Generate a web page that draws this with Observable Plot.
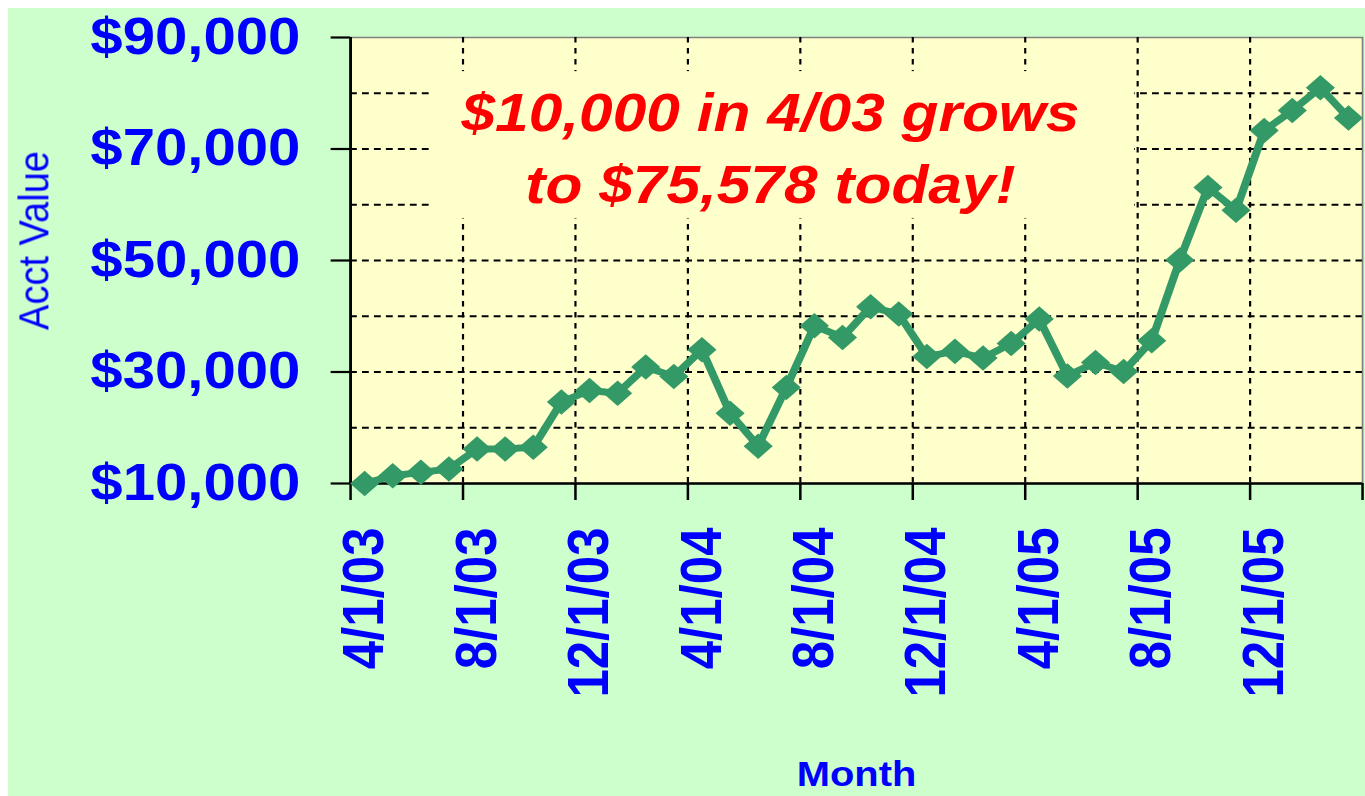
<!DOCTYPE html>
<html>
<head>
<meta charset="utf-8">
<script src="https://cdn.jsdelivr.net/npm/d3@7"></script>
<script src="https://cdn.jsdelivr.net/npm/@observablehq/plot@0.6"></script>
<style>
  html { background: #ffffff; overflow: hidden; height: 100%; }
  body { margin: 0; position: fixed; left: 8px; top: 8px; right: -40px; bottom: -40px; background: #ccffcc; overflow: hidden; }
  #chart { width: 1191px; transform: scaleX(1.14); transform-origin: 0 0; }
  #chart svg { display: block; background: #ccffcc; max-width: none; }
</style>
</head>
<body>
<div id="chart"></div>
<script>
// ---- data ----
const months = [
  "4/1/03","5/1/03","6/1/03","7/1/03","8/1/03","9/1/03","10/1/03","11/1/03","12/1/03",
  "1/1/04","2/1/04","3/1/04","4/1/04","5/1/04","6/1/04","7/1/04","8/1/04","9/1/04",
  "10/1/04","11/1/04","12/1/04","1/1/05","2/1/05","3/1/05","4/1/05","5/1/05","6/1/05",
  "7/1/05","8/1/05","9/1/05","10/1/05","11/1/05","12/1/05","1/1/06","2/1/06","3/1/06"
];
const values = [
  10000, 11400, 12000, 12600, 16200, 16200, 16500, 24600, 26700,
  26200, 30900, 29200, 34000, 22600, 16700, 27200, 38300, 36200,
  41700, 40400, 32800, 33700, 32500, 35100, 39500, 29300, 31700,
  30100, 35600, 50100, 63100, 59000, 73300, 76900, 81000, 75578
];
const xTickLabels = ["4/1/03","8/1/03","12/1/03","4/1/04","8/1/04","12/1/04","4/1/05","8/1/05","12/1/05"];
const yTickValues = [10000, 30000, 50000, 70000, 90000];
const yGridValues = [20000, 30000, 40000, 50000, 60000, 70000, 80000];
const yDomain = [10000, 90000];
const annotation = "$10,000 in 4/03 grows\nto $75,578 today!";
const yTitle = "Acct Value";
const xTitle = "Month";

// ---- derived structures ----
const data = months.map((m, i) => ({i, month: m, value: values[i]}));
const labelIdx = xTickLabels.map(l => months.indexOf(l));
const xDomain = [-0.5, months.length - 0.5];
const tickBounds = [...labelIdx.map(i => i - 0.5), months.length - 0.5];
const vGrid = labelIdx.slice(1).map(i => i - 0.5);

const font = "'Liberation Sans', Arial, Helvetica, sans-serif";
const green = "#339966";
const blue = "#0000ff";

const svg = Plot.plot({
  width: 1191,
  height: 788,
  marginLeft: 300,
  marginRight: 3.3,
  marginTop: 29,
  marginBottom: 313,
  style: {background: "#ccffcc", fontFamily: font, overflow: "visible"},
  x: {type: "linear", domain: xDomain},
  y: {type: "linear", domain: yDomain},
  marks: [
    Plot.frame({fill: "#ffffcc", stroke: "#808080", strokeWidth: 1.5}),
    Plot.ruleY(yGridValues, {stroke: "#000", strokeWidth: 2, strokeDasharray: "6,4.5"}),
    Plot.ruleX(vGrid, {stroke: "#000", strokeWidth: 1.9, strokeDasharray: "5.5,5.5"}),
    Plot.text([annotation], {
      frameAnchor: "top", dx: -75.5, dy: 42, lineAnchor: "top", lineHeight: 1.36,
      fontSize: 53, fontWeight: "bold", fontStyle: "italic", fill: "#ff0000", fontFamily: font
    }),
    Plot.ruleX([xDomain[0]], {stroke: "#000", strokeWidth: 2.5}),
    Plot.ruleY([yDomain[0]], {stroke: "#000", strokeWidth: 2.5}),
    Plot.axisY(yTickValues, {
      tickSize: 17, tickPadding: 27, stroke: "#000", strokeWidth: 2.2,
      fill: blue, fontSize: 51, fontWeight: "bold", fontFamily: font,
      tickFormat: d3.format("$,"), label: null
    }),
    Plot.axisX(tickBounds, {tickSize: 17, stroke: "#000", strokeWidth: 2.2, fill: "none", label: null}),
    Plot.axisX(labelIdx, {
      tickSize: 0, tickPadding: 44, tickRotate: -90,
      fill: blue, fontSize: 51, fontWeight: "bold", fontFamily: font,
      tickFormat: i => months[i], label: null
    }),
    Plot.text([yTitle], {frameAnchor: "left", textAnchor: "middle", dx: -277, dy: -20, rotate: -90, fontSize: 38, fill: blue, fontFamily: font}),
    Plot.text([xTitle], {frameAnchor: "bottom", dy: 302, fontSize: 35, fontWeight: "bold", fill: blue, fontFamily: font}),
    Plot.line(data, {x: "i", y: "value", stroke: green, strokeWidth: 7}),
    Plot.dot(data, {x: "i", y: "value", symbol: "diamond2", r: 11.5, fill: green, stroke: "none"})
  ]
});

document.getElementById("chart").append(svg);

// background box behind the annotation (sized from the rendered text)
const ann = [...svg.querySelectorAll("text")].find(e => e.textContent.includes("grows"));
if (ann) {
  const bb = ann.getBBox();
  const r = document.createElementNS("http://www.w3.org/2000/svg", "rect");
  r.setAttribute("x", bb.x - 27);
  r.setAttribute("y", bb.y - 12);
  r.setAttribute("width", bb.width + 27 + 48);
  r.setAttribute("height", bb.height + 16);
  r.setAttribute("fill", "#ffffcc");
  const tr = ann.getAttribute("transform");
  if (tr) r.setAttribute("transform", tr);
  ann.parentNode.insertBefore(r, ann);
}
</script>
</body>
</html>
